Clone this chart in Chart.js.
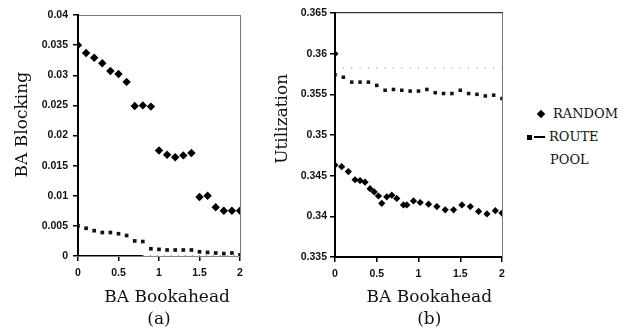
<!DOCTYPE html>
<html>
<head>
<meta charset="utf-8">
<script src="https://cdn.jsdelivr.net/npm/chart.js@4"></script>
<style>
  body { margin: 0; background: #fff; width: 626px; height: 331px; position: relative; overflow: hidden; }
  canvas { position: absolute; top: 0; }
  #chart-a { left: 0; }
  #chart-b { left: 262px; }
  #legend { position: absolute; left: 520px; top: 103px; width: 106px; font-family: 'DejaVu Serif', serif; font-size: 13px; color: #111; }
  .legend-row { position: relative; height: 23px; }
  .legend-row span { position: absolute; }
  .legend-text { top: 3px; line-height: 16px; }
  .mark-diamond { width: 6px; height: 6px; background: #000; transform: rotate(45deg); left: 18px; top: 8px; }
  .mark-square { width: 5px; height: 5px; background: #000; left: 7px; top: 9px; }
  .mark-dash { width: 11px; height: 2px; background: #000; left: 14px; top: 10px; }
</style>
</head>
<body>
<canvas id="chart-a" width="250" height="331"></canvas>
<canvas id="chart-b" width="250" height="331"></canvas>
<div id="legend"></div>
<script>
// Panel (a): BA blocking vs bookahead
const bookaheadA = [0, 0.1, 0.2, 0.3, 0.4, 0.5, 0.6, 0.7, 0.8, 0.9, 1.0, 1.1, 1.2, 1.3, 1.4, 1.5, 1.6, 1.7, 1.8, 1.9, 2.0];
const randomBlocking = [0.0350, 0.0337, 0.0329, 0.0320, 0.0307, 0.0302, 0.0289, 0.0249, 0.0250, 0.0248, 0.0175, 0.0168, 0.0164, 0.0167, 0.0171, 0.0098, 0.0100, 0.0081, 0.0075, 0.0075, 0.0075];
const routeBlocking = [0.0050, 0.0046, 0.0042, 0.0039, 0.0039, 0.0037, 0.0034, 0.0025, 0.0024, 0.0012, 0.0011, 0.0010, 0.0010, 0.0010, 0.0010, 0.0007, 0.0006, 0.0005, 0.0004, 0.0005, 0.0002];
const poolBlocking = [0, 0, 0, 0, 0, 0, 0, 0, 0, 0, 0, 0, 0, 0, 0, 0, 0, 0, 0, 0, 0];

// Panel (b): utilization vs bookahead
const bookaheadRandomB = [0, 0.08, 0.16, 0.24, 0.30, 0.36, 0.42, 0.47, 0.52, 0.56, 0.62, 0.68, 0.74, 0.82, 0.86, 0.94, 1.02, 1.12, 1.22, 1.32, 1.42, 1.52, 1.62, 1.72, 1.82, 1.92, 2.0];
const randomUtil = [0.3463, 0.3461, 0.3455, 0.3445, 0.3444, 0.3442, 0.3434, 0.3430, 0.3425, 0.3416, 0.3424, 0.3426, 0.3422, 0.3414, 0.3414, 0.3419, 0.3417, 0.3415, 0.3412, 0.3408, 0.3408, 0.3414, 0.3412, 0.3406, 0.3403, 0.3407, 0.3404];
const bookaheadB = [0, 0.1, 0.2, 0.3, 0.4, 0.5, 0.6, 0.7, 0.8, 0.9, 1.0, 1.1, 1.2, 1.3, 1.4, 1.5, 1.6, 1.7, 1.8, 1.9, 2.0];
const routeUtil = [0.3574, 0.3571, 0.3565, 0.3565, 0.3565, 0.3561, 0.3555, 0.3556, 0.3555, 0.3554, 0.3554, 0.3556, 0.3552, 0.3551, 0.3551, 0.3555, 0.3551, 0.3550, 0.3548, 0.3549, 0.3545];
const poolUtil = [0.3600, 0.3582, 0.3582, 0.3582, 0.3582, 0.3582, 0.3582, 0.3582, 0.3582, 0.3582, 0.3582, 0.3582, 0.3582, 0.3582, 0.3582, 0.3582, 0.3582, 0.3582, 0.3582, 0.3582, 0.3582];

// Tick labels
const xTicks = [0, 0.5, 1, 1.5, 2];
const yTicksA = [0, 0.005, 0.01, 0.015, 0.02, 0.025, 0.03, 0.035, 0.04];
const yTicksB = [0.335, 0.34, 0.345, 0.35, 0.355, 0.36, 0.365];

const seriesNames = ['RANDOM', 'ROUTE', 'POOL'];

Chart.defaults.font.family = "'Liberation Sans', Arial, sans-serif";
Chart.defaults.color = '#111';
Chart.defaults.animation = false;

const serif = "'DejaVu Serif', serif";

function pairs(xs, ys) {
  return xs.map((x, i) => ({ x: x, y: ys[i] }));
}

function setTicks(values) {
  return scale => { scale.ticks = values.map(v => ({ value: v })); };
}

// plain number labels: 0.04, 0.5, 1 (no padded zeros)
function plainLabel(value) {
  return String(Number(value.toFixed(4)));
}

function buildScales(cfg) {
  const tickFont = { size: 10.5, weight: 'bold' };
  const dotted = { display: true, color: '#777', width: 1, dash: [1, 1] };
  return {
    x: {
      type: 'linear', position: 'bottom', min: 0, max: 2,
      afterBuildTicks: setTicks(xTicks),
      afterFit: s => { s.height = cfg.bottom; },
      ticks: { font: tickFont, padding: 6, maxRotation: 0, callback: plainLabel },
      grid: { drawOnChartArea: false, tickLength: 5, color: '#000', lineWidth: 1.5 },
      border: cfg.bottomBorder,
      // leading spaces nudge the centred titles off-centre, as in the original
      title: { display: true, text: cfg.xTitle, font: { family: serif, size: 17, lineHeight: 1.3 }, color: '#111', padding: 0 }
    },
    xTop: {
      type: 'linear', position: 'top', min: 0, max: 2,
      afterFit: s => { s.height = cfg.top; },
      ticks: { display: false },
      grid: { drawOnChartArea: false, drawTicks: false },
      border: cfg.topBorder || dotted
    },
    y: {
      type: 'linear', position: 'left', min: cfg.yTicks[0], max: cfg.yTicks[cfg.yTicks.length - 1],
      afterBuildTicks: setTicks(cfg.yTicks),
      afterFit: s => { s.width = cfg.left; },
      ticks: { font: tickFont, padding: cfg.tickPad, callback: plainLabel },
      grid: { drawOnChartArea: false, tickLength: 5, color: '#000', lineWidth: 1.5 },
      border: { display: true, color: '#000', width: 2 },
      title: { display: true, text: cfg.yTitle, font: { family: serif, size: 17 }, color: '#111', padding: { top: cfg.titlePad, bottom: 0 } }
    },
    yRight: {
      type: 'linear', position: 'right', min: cfg.yTicks[0], max: cfg.yTicks[cfg.yTicks.length - 1],
      afterFit: s => { s.width = 10; },
      ticks: { display: false },
      grid: { drawOnChartArea: false, drawTicks: false },
      border: dotted
    }
  };
}

function scatterOptions(scales) {
  return {
    responsive: false,
    layout: { padding: 0 },
    plugins: { legend: { display: false }, tooltip: { enabled: false } },
    scales: scales
  };
}

const chartA = new Chart(document.getElementById('chart-a'), {
  type: 'scatter',
  data: {
    datasets: [
      { label: seriesNames[0], data: pairs(bookaheadA, randomBlocking), pointStyle: 'rectRot', pointRadius: 4.2, backgroundColor: '#000', borderColor: '#000', borderWidth: 0 },
      { label: seriesNames[1], data: pairs(bookaheadA, routeBlocking), pointStyle: 'rect', pointRadius: 2.6, backgroundColor: '#111', borderColor: '#111', borderWidth: 0 },
      {
        label: seriesNames[2], data: pairs(bookaheadA, poolBlocking), showLine: true, pointRadius: 0, borderWidth: 2, borderColor: '#000',
        segment: {
          borderColor: ctx => ctx.p0DataIndex < 8 ? '#000' : '#888',
          borderDash: ctx => ctx.p0DataIndex < 8 ? [] : [1, 6]
        }
      }
    ]
  },
  options: scatterOptions(buildScales({
    yTicks: yTicksA, yTitle: '    BA Blocking', xTitle: ['   BA Bookahead', '(a)'],
    left: 78, top: 15, bottom: 75, tickPad: 5, titlePad: 12,
    bottomBorder: { display: true, color: '#888', width: 1, dash: [1, 2] }
  }))
});

const chartB = new Chart(document.getElementById('chart-b'), {
  type: 'scatter',
  data: {
    datasets: [
      { label: seriesNames[0], data: pairs(bookaheadRandomB, randomUtil), pointStyle: 'rectRot', pointRadius: 3.6, backgroundColor: '#000', borderColor: '#000', borderWidth: 0 },
      { label: seriesNames[1], data: pairs(bookaheadB, routeUtil), pointStyle: 'rect', pointRadius: 2.5, backgroundColor: '#111', borderColor: '#111', borderWidth: 0 },
      {
        label: seriesNames[2], data: pairs(bookaheadB, poolUtil),
        pointStyle: ctx => ctx.dataIndex === 0 ? 'rectRot' : 'circle',
        pointRadius: ctx => ctx.dataIndex === 0 ? 3.5 : 0.7,
        backgroundColor: ctx => ctx.dataIndex === 0 ? '#000' : '#aaa',
        borderWidth: 0
      }
    ]
  },
  options: scatterOptions(buildScales({
    yTicks: yTicksB, yTitle: '      Utilization', xTitle: ['    BA Bookahead', '    (b)'],
    left: 73, top: 13, bottom: 74, tickPad: 3, titlePad: 10,
    bottomBorder: { display: true, color: '#000', width: 2 },
    topBorder: { display: true, color: '#333', width: 1.2, dash: [2, 1] }
  }))
});

// HTML legend built from panel (b) datasets
function buildLegend(chart) {
  const marks = ['<span class="mark-diamond"></span>', '<span class="mark-square"></span><span class="mark-dash"></span>', ''];
  const textLeft = [33, 29, 30];
  const legend = document.getElementById('legend');
  legend.innerHTML = chart.data.datasets.map((ds, i) =>
    `<div class="legend-row">${marks[i]}<span class="legend-text" style="left:${textLeft[i]}px">${ds.label}</span></div>`
  ).join('');
}

buildLegend(chartB);
</script>
</body>
</html>
